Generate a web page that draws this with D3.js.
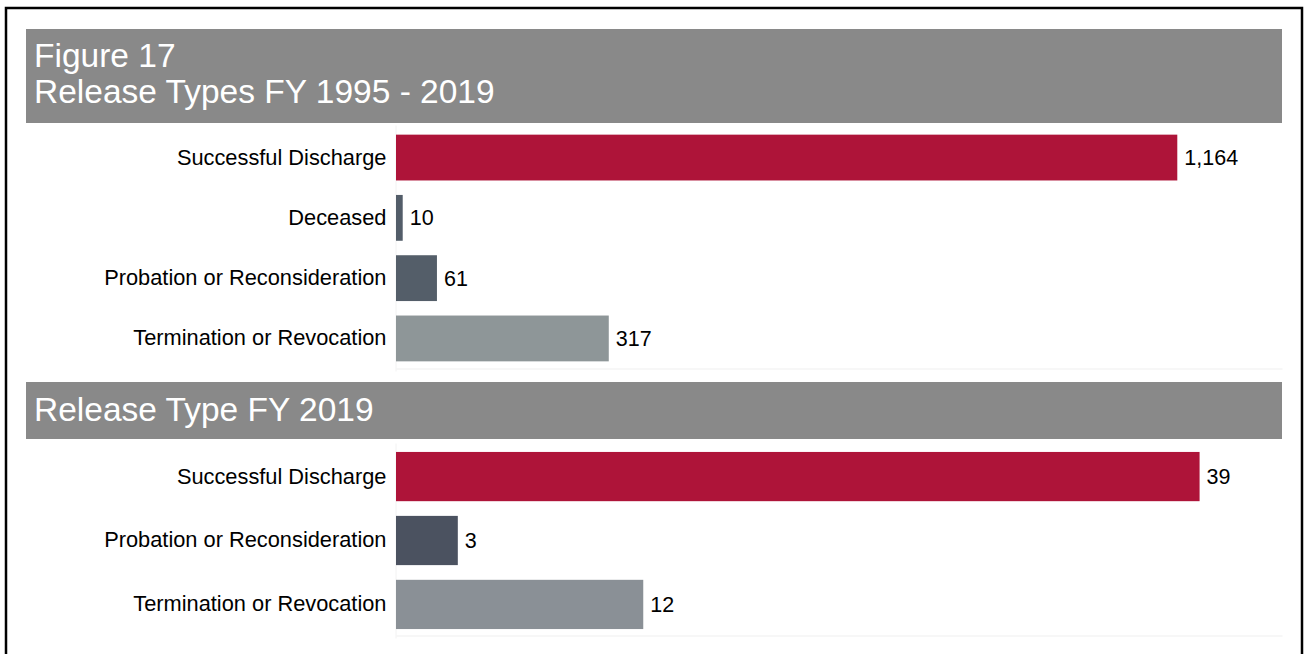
<!DOCTYPE html>
<meta charset="utf-8">
<script src="https://d3js.org/d3.v7.min.js"></script>
<style>
  body { margin: 0; background: #fff; }
  text { font-family: "Liberation Sans", Arial, sans-serif; }
</style>
<div id="my_dataviz"></div>
<script>

  // data
  var allCategories = ["Successful Discharge", "Deceased", "Probation or Reconsideration", "Termination or Revocation"];
  var allValues = [1164, 10, 61, 317];
  var allColors = ["#ae1439", "#535d69", "#545e69", "#8e9698"];

  var fyCategories = ["Successful Discharge", "Probation or Reconsideration", "Termination or Revocation"];
  var fyValues = [39, 3, 12];
  var fyColors = ["#ae1439", "#4b5260", "#8a9096"];

  var width = 1306, height = 654;

  var svg = d3.select("#my_dataviz")
    .append("svg")
    .attr("width", width)
    .attr("height", height);

  // outer frame (bottom runs off the page)
  svg.append("path")
    .attr("d", "M6,660 V8 H1302 V660")
    .attr("fill", "none")
    .attr("stroke", "#000")
    .attr("stroke-width", 2.5);

  // title bands
  function titleBand(y0, y1, lines, baselines) {
    svg.append("rect")
      .attr("x", 26).attr("y", y0)
      .attr("width", 1256).attr("height", y1 - y0)
      .style("fill", "#898989");
    lines.forEach(function (t, i) {
      svg.append("text")
        .attr("x", 34)
        .attr("y", baselines[i])
        .style("font-size", "33.5px")
        .style("fill", "#fff")
        .text(t);
    });
  }

  titleBand(29, 123, ["Figure 17", "Release Types FY 1995 - 2019"], [67, 103]);
  titleBand(382, 439, ["Release Type FY 2019"], [421]);

  // one bar panel
  function panel(cats, vals, colors, xMax, yRange, pIn, pOut) {
    var x = d3.scaleLinear()
      .domain([0, xMax])
      .range([396, 1282]);

    var y = d3.scaleBand()
      .domain(cats)
      .range(yRange)
      .paddingInner(pIn)
      .paddingOuter(pOut);

    var g = svg.append("g");

    // bottom line
    g.append("g")
      .attr("transform", "translate(0," + (yRange[1] - 2.5) + ")")
      .call(d3.axisBottom(x).tickValues([]).tickSizeOuter(0))
      .select(".domain").attr("stroke", "#efefef");

    // left axis with category labels
    var ya = g.append("g")
      .attr("transform", "translate(395.5,0)")
      .call(d3.axisLeft(y).tickSize(0).tickPadding(9));
    ya.select(".domain").attr("stroke", "#f2f2f2");
    ya.selectAll("text")
      .style("font-family", "'Liberation Sans', Arial, sans-serif")
      .style("font-size", "21.8px")
      .style("fill", "#000");

    var rows = cats.map(function (c, i) { return { c: c, v: vals[i], col: colors[i] }; });

    g.selectAll("rect.bar")
      .data(rows)
      .enter()
      .append("rect")
      .attr("class", "bar")
      .attr("x", x(0))
      .attr("y", function (d) { return y(d.c); })
      .attr("width", function (d) { return x(d.v) - x(0); })
      .attr("height", y.bandwidth())
      .style("fill", function (d) { return d.col; });

    g.selectAll("text.val")
      .data(rows)
      .enter()
      .append("text")
      .attr("class", "val")
      .attr("x", function (d) { return x(d.v) + 7; })
      .attr("y", function (d) { return y(d.c) + y.bandwidth() / 2 + 7.5; })
      .style("font-size", "21.5px")
      .style("fill", "#000")
      .text(function (d) { return d3.format(",")(d.v); });
  }

  panel(allCategories, allValues, allColors, 1320, [125, 371], 0.24, 0.16);
  panel(fyCategories, fyValues, fyColors, 43, [443, 638], 0.23, 0.14);

</script>
